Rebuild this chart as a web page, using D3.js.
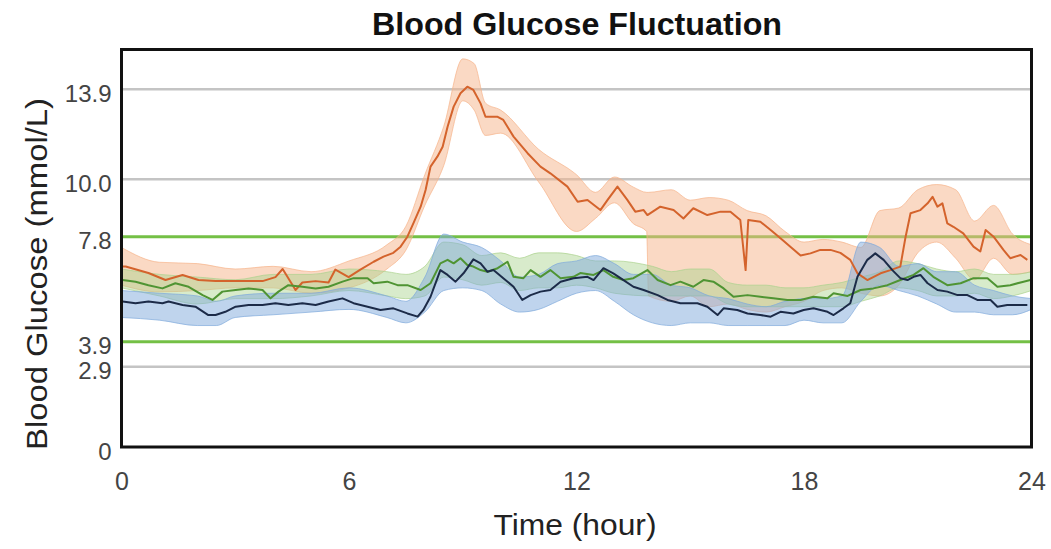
<!DOCTYPE html>
<html>
<head>
<meta charset="utf-8">
<script src="https://cdn.jsdelivr.net/npm/d3@7"></script>
<style>
  html, body { margin: 0; padding: 0; background: #ffffff; }
  svg { display: block; }
  text { font-family: "Liberation Sans", Arial, Helvetica, sans-serif; }
</style>
</head>
<body>
<svg id="chart" width="1051" height="549"></svg>
<script>
// ---------- data ----------
const title = "Blood Glucose Fluctuation";
const xTitle = "Time (hour)";
const yTitle = "Blood Glucose (mmol/L)";
const xTicks = [0, 6, 12, 18, 24];
const yTicks = [0, 2.9, 3.9, 7.8, 10.0, 13.9];
const targetLines = [3.9, 7.8];
const grayLines = [2.9, 10.0, 13.9];

// orange series
const orangeT = [0,0.11,0.71,1.16,1.61,2.03,2.48,3.14,3.72,4.06,4.25,4.59,4.77,5.12,5.46,5.64,5.99,6.30,6.65,6.91,7.17,7.36,7.54,7.70,7.89,8.02,8.15,8.33,8.47,8.60,8.76,8.94,9.12,9.28,9.47,9.60,9.92,10.07,10.34,10.71,11.05,11.31,11.76,12.03,12.29,12.63,12.82,13.08,13.34,13.55,13.77,13.87,14.21,14.56,14.82,15.08,15.45,15.80,16.06,16.32,16.46,16.53,16.85,17.12,17.38,17.64,17.91,18.17,18.43,18.70,18.96,19.22,19.41,19.67,20.02,20.28,20.54,20.68,20.81,21.07,21.26,21.39,21.52,21.65,21.78,21.94,22.20,22.47,22.65,22.79,23.00,23.26,23.44,23.71,23.89];
const orangeMean = [6.69,6.69,6.45,6.19,6.38,6.19,6.15,6.15,6.15,6.3,6.6,5.82,6.1,6.15,6.1,6.58,6.30,6.58,6.87,7.06,7.2,7.43,7.8,8.32,8.95,9.59,10.55,10.98,11.41,12.28,13.15,13.73,14.01,13.87,13.29,12.71,12.71,12.57,11.85,11.13,10.55,10.26,9.72,9.14,9.21,8.82,9.21,9.72,9.21,8.76,8.82,8.63,8.95,8.82,8.5,8.89,8.63,8.76,8.76,8.44,6.56,8.44,8.37,8.06,7.74,7.43,7.1,7.18,7.31,7.31,7.2,6.94,6.44,6.19,6.44,6.56,6.69,7.8,8.7,8.82,9.08,9.33,8.95,9.08,8.31,8.18,7.93,7.43,7.25,8.06,7.8,7.31,7.0,7.12,6.94];
const orangeBandT = [0,1,2,3,4,5,6,7,7.5,8,8.5,9,9.3,9.6,10,11,12,12.5,13,13.5,13.85,13.9,14.5,15,15.5,16,16.5,17,17.5,18,18.5,19,19.5,20,20.5,21,21.5,22,22.5,23,23.5,24];
const orangeHigh = [7.4,6.85,6.8,6.6,6.7,6.5,6.9,7.5,8.2,10.2,12.3,15.2,15.0,13.3,13.0,11.3,10.2,9.5,10.1,9.7,9.5,9.5,9.6,9.2,9.3,9.2,8.8,8.6,8.0,7.6,7.7,7.6,7.4,8.8,8.9,9.6,9.8,9.6,8.4,9.0,7.9,7.5];
const orangeLow  = [6.0,5.75,5.8,5.9,5.9,5.7,5.9,6.6,7.3,9.0,10.6,13.4,13.0,11.9,12.0,9.9,8.0,8.5,9.1,8.3,8.0,5.6,5.4,5.6,5.2,5.3,5.1,5.0,5.2,5.4,5.8,5.9,5.7,5.6,6.0,7.2,7.6,7.0,6.2,7.0,6.4,6.5];

// green series
const greenT = [0.03,0.37,0.71,1.08,1.42,1.77,2.14,2.40,2.66,3.01,3.35,3.72,3.93,4.14,4.40,4.77,5.12,5.46,5.83,6.12,6.49,6.65,7.01,7.28,7.54,7.89,8.15,8.41,8.60,8.76,8.94,9.12,9.28,9.47,9.65,9.92,10.18,10.34,10.60,10.79,11.05,11.31,11.58,11.92,12.10,12.45,12.71,12.97,13.24,13.50,13.87,14.14,14.48,14.74,15.08,15.35,15.61,15.88,16.14,16.51,16.85,17.19,17.56,17.91,18.25,18.62,18.78,19.15,19.49,19.83,20.20,20.54,20.89,21.15,21.41,21.78,22.13,22.47,22.84,23.10,23.44,23.79,23.97];
const greenMean = [6.19,6.13,6.0,5.88,6.07,5.94,5.63,5.45,5.76,5.82,5.88,5.82,5.51,5.76,6.0,5.94,5.88,5.94,6.13,6.26,6.26,6.07,6.13,6.0,6.0,5.82,6.07,6.81,6.94,6.81,7.0,6.75,6.69,6.56,6.5,6.63,6.87,6.31,6.26,6.56,6.31,6.56,6.26,6.31,6.45,6.38,6.56,6.31,6.19,6.26,6.56,6.19,6.0,6.13,5.94,6.19,6.13,5.88,5.57,5.63,5.57,5.51,5.45,5.45,5.57,5.51,5.7,5.6,5.82,5.88,6.0,6.19,6.38,6.63,6.31,6.0,6.07,6.26,6.26,5.94,6.0,6.13,6.19];
const greenBandT = [0,1,2,3,4,5,6,7,7.5,8,8.5,9,9.5,10,10.5,11,11.5,12,12.5,13,14,14.5,15,15.5,16,16.5,17,17.5,18,18.5,19,19.5,20,20.5,21,21.5,22,22.5,23,23.5,24];
const greenHigh = [6.6,6.4,6.3,6.2,6.4,6.4,6.6,6.5,6.4,6.7,7.6,7.5,7.1,7.2,7.0,7.2,7.2,7.1,6.9,6.9,6.7,6.5,6.6,6.6,6.1,6.0,6.0,5.9,5.9,6.0,6.1,6.3,6.5,6.9,6.8,6.6,6.5,6.6,6.4,6.4,6.5];
const greenLow  = [5.9,5.6,5.3,5.5,5.5,5.6,5.8,5.6,5.5,5.6,6.3,6.2,6.0,6.1,5.8,5.9,5.9,6.0,5.9,5.7,5.6,5.6,5.6,5.6,5.3,5.2,5.2,5.2,5.2,5.2,5.2,5.4,5.6,5.9,5.8,5.6,5.6,5.7,5.5,5.6,5.8];

// blue series
const blueT = [0.03,0.37,0.71,1.08,1.24,1.61,1.95,2.29,2.48,2.74,3.01,3.35,3.72,4.06,4.40,4.77,5.12,5.46,5.83,6.12,6.49,6.83,7.17,7.54,7.81,7.96,8.15,8.41,8.60,8.81,9.02,9.28,9.47,9.65,9.81,10.07,10.34,10.57,10.79,11.05,11.31,11.58,11.92,12.29,12.45,12.71,12.97,13.24,13.50,13.77,14.14,14.40,14.74,15.19,15.45,15.72,15.88,16.24,16.51,16.85,17.12,17.38,17.72,17.99,18.25,18.62,18.78,19.04,19.22,19.41,19.67,19.88,20.10,20.33,20.54,20.73,20.89,21.07,21.26,21.52,21.78,22.05,22.31,22.57,22.92,23.10,23.36,23.89];
const blueMean = [5.39,5.33,5.39,5.33,5.39,5.26,5.2,4.89,4.89,5.01,5.2,5.26,5.26,5.33,5.26,5.33,5.26,5.39,5.51,5.33,5.2,5.08,5.14,4.95,4.83,5.08,5.57,6.56,6.38,6.13,6.44,6.96,6.81,6.5,6.56,6.26,5.94,5.45,5.63,5.76,5.82,6.13,6.26,6.31,6.19,6.63,6.44,6.19,5.94,5.82,5.63,5.45,5.33,5.33,5.2,4.89,5.14,5.08,4.95,4.89,4.83,5.01,4.95,5.08,5.14,5.01,4.89,5.14,5.33,6.31,6.94,7.18,6.94,6.56,6.26,6.19,6.31,6.38,6.07,5.82,5.76,5.63,5.63,5.45,5.45,5.2,5.26,5.26];
const blueBandT = [0,1,2,2.5,3,4,5,6,7,7.5,8,8.5,9,9.5,10,10.5,11,11.5,12,12.5,13,13.5,14,14.5,15,15.5,16,16.5,17,17.5,18,18.5,19,19.5,20,20.5,21,21.5,22,22.5,23,23.5,24];
const blueHigh = [5.8,5.7,5.6,5.4,5.6,5.7,5.7,5.9,5.6,5.4,6.3,7.9,7.6,7.4,6.9,6.3,6.4,6.8,6.9,7.1,6.8,6.4,6.4,6.0,5.9,5.6,5.5,5.3,5.2,5.4,5.5,5.5,5.6,7.6,7.4,6.7,6.8,6.5,6.5,6.0,5.8,5.6,5.5];
const blueLow  = [4.8,4.7,4.5,4.5,4.8,4.9,5.0,5.1,4.8,4.6,5.0,5.8,5.9,5.8,5.3,5.0,5.1,5.4,5.7,5.8,5.4,4.9,4.6,4.5,4.6,4.6,4.5,4.5,4.5,4.5,4.7,4.6,4.6,5.4,6.0,5.8,5.6,5.3,5.0,5.0,4.9,4.9,5.1];

// ---------- build ----------
const series = [
  { name: "orange", t: orangeT, mean: orangeMean, bt: orangeBandT, hi: orangeHigh, lo: orangeLow,
    line: "#d4632c", band: "#f6b48a", bandOpacity: 0.5 },
  { name: "green", t: greenT, mean: greenMean, bt: greenBandT, hi: greenHigh, lo: greenLow,
    line: "#4f9433", band: "#a9d28c", bandOpacity: 0.45 },
  { name: "blue", t: blueT, mean: blueMean, bt: blueBandT, hi: blueHigh, lo: blueLow,
    line: "#1c2b48", band: "#7fa9dc", bandOpacity: 0.5 }
];

const svg = d3.select("#chart");
const L = 121.5, R = 1031.5, T = 49.5, B = 447;

const x = d3.scaleLinear().domain([0, 24]).range([L, R]);
// the source figure's y axis is not uniformly spaced; map its labelled levels piecewise
const y = d3.scaleLinear()
  .domain([0, 2.9, 3.9, 7.8, 10.0, 13.9, 15.6])
  .range([B, 366.7, 341.7, 236.7, 179.3, 89.3, T]);

svg.append("rect").attr("width", 1051).attr("height", 549).attr("fill", "#fff");

// gridlines
svg.append("g").selectAll("line").data(grayLines).join("line")
  .attr("x1", L).attr("x2", R)
  .attr("y1", d => y(d)).attr("y2", d => y(d))
  .attr("stroke", "#c4c4c4").attr("stroke-width", 2.5);
svg.append("g").selectAll("line").data(targetLines).join("line")
  .attr("x1", L).attr("x2", R)
  .attr("y1", d => y(d)).attr("y2", d => y(d))
  .attr("stroke", "#74c046").attr("stroke-width", 3);

svg.append("clipPath").attr("id", "plotclip")
  .append("rect").attr("x", L).attr("y", T).attr("width", R - L).attr("height", B - T);

const plot = svg.append("g").attr("clip-path", "url(#plotclip)");

// bands
series.forEach(s => {
  const bd = d3.zip(s.bt, s.lo, s.hi);
  plot.append("path")
    .datum(bd)
    .attr("fill", s.band)
    .attr("fill-opacity", s.bandOpacity)
    .attr("stroke", s.band)
    .attr("stroke-opacity", 0.7)
    .attr("stroke-width", 1)
    .attr("d", d3.area().x(d => x(d[0])).y0(d => y(d[1])).y1(d => y(d[2])).curve(d3.curveMonotoneX));
});

// mean lines
series.forEach(s => {
  const ld = d3.zip(s.t, s.mean);
  plot.append("path")
    .datum(ld)
    .attr("fill", "none")
    .attr("stroke", s.line)
    .attr("stroke-width", 2)
    .attr("stroke-linejoin", "round")
    .attr("d", d3.line().x(d => x(d[0])).y(d => y(d[1])));
});

// axes
const yAxis = svg.append("g").attr("transform", `translate(${L},0)`)
  .call(d3.axisLeft(y).tickValues(yTicks).tickSize(0).tickPadding(10)
    .tickFormat(d => d === 0 ? "0" : d3.format(".1f")(d)));
yAxis.select(".domain").remove();
yAxis.selectAll("text").attr("font-size", 24).attr("fill", "#444").attr("font-family", null)
  .attr("dy", "0.5em");

const xAxis = svg.append("g").attr("transform", `translate(0,${B})`)
  .call(d3.axisBottom(x).tickValues(xTicks).tickSize(0).tickPadding(25));
xAxis.select(".domain").remove();
xAxis.selectAll("text").attr("font-size", 25).attr("fill", "#444").attr("font-family", null);

// frame
svg.append("rect")
  .attr("x", L).attr("y", T).attr("width", R - L).attr("height", B - T)
  .attr("fill", "none").attr("stroke", "#111").attr("stroke-width", 3);

// titles
svg.append("text").attr("x", 577).attr("y", 35).attr("text-anchor", "middle")
  .attr("font-size", 31).attr("font-weight", "bold").attr("fill", "#111")
  .attr("textLength", 410).attr("lengthAdjust", "spacingAndGlyphs").text(title);
svg.append("text").attr("x", 575).attr("y", 535).attr("text-anchor", "middle")
  .attr("font-size", 29).attr("fill", "#222")
  .attr("textLength", 163).attr("lengthAdjust", "spacingAndGlyphs").text(xTitle);
svg.append("text").attr("transform", "translate(47,274) rotate(-90)").attr("text-anchor", "middle")
  .attr("font-size", 30).attr("fill", "#222")
  .attr("textLength", 352).attr("lengthAdjust", "spacingAndGlyphs").text(yTitle);
</script>
</body>
</html>
